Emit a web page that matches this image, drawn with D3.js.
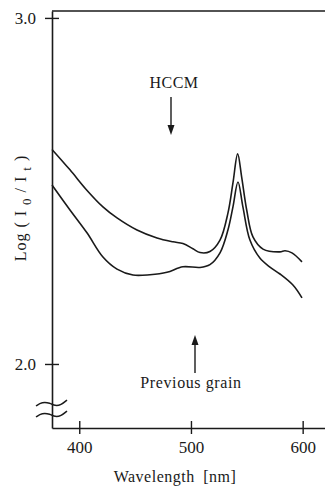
<!DOCTYPE html>
<html>
<head>
<meta charset="utf-8">
<script src="https://cdn.jsdelivr.net/npm/d3@7"></script>
<style>
  html, body { margin: 0; padding: 0; background: #fff; }
  svg { display: block; }
  text { font-family: "Liberation Serif", "Times New Roman", Times, serif; fill: #1a1a1a; }
</style>
</head>
<body>
<div id="chart"></div>
<script>
// wavelength [nm] and Log(I0/It)
const hccmWl = [375.6, 391.7, 406.6, 421.2, 433.8, 451.7, 469.6, 483.9, 492.8, 501.8, 508.1, 517.0, 526.0, 533.1, 537.6, 541.8, 545.4, 549.9, 555.5, 564.5, 579.7, 584.2, 590.4, 599.4];
const hccmVal = [2.620, 2.561, 2.503, 2.454, 2.422, 2.387, 2.364, 2.353, 2.348, 2.333, 2.322, 2.325, 2.358, 2.436, 2.523, 2.607, 2.540, 2.445, 2.367, 2.332, 2.324, 2.327, 2.321, 2.295];

const prevWl = [375.6, 391.7, 406.9, 421.2, 433.8, 448.1, 463.3, 478.5, 492.8, 508.1, 517.0, 526.0, 533.1, 537.6, 542.1, 546.5, 552.8, 561.7, 570.7, 579.7, 591.3, 599.4];
const prevVal = [2.517, 2.445, 2.379, 2.309, 2.274, 2.257, 2.258, 2.265, 2.281, 2.279, 2.287, 2.321, 2.387, 2.454, 2.526, 2.454, 2.358, 2.306, 2.280, 2.260, 2.228, 2.191];

const xTicks = [400, 500, 600];
const yTicks = [2.0, 3.0];

const W = 325, H = 488;
const mLeft = 52, mRight = 325, mTop = 11, mBottom = 428;

const svg = d3.select('#chart').append('svg')
  .attr('width', W)
  .attr('height', H);

const x = d3.scaleLinear().domain([375.6, 620]).range([mLeft, mRight]);
const y = d3.scaleLinear().domain([1.815, 3.02]).range([mBottom, mTop]);

const ink = '#1a1a1a';
const serif = '"Liberation Serif", "Times New Roman", Times, serif';

// frame: top line, left axis, bottom axis
svg.append('line').attr('x1', mLeft).attr('x2', mRight).attr('y1', mTop).attr('y2', mTop)
  .attr('stroke', ink).attr('stroke-width', 1.6);

const xAxis = svg.append('g').attr('transform', 'translate(0,' + mBottom + ')')
  .call(d3.axisBottom(x).tickValues(xTicks).tickSize(0).tickPadding(13).tickFormat(d3.format('d')));
xAxis.attr('font-family', serif);
xAxis.select('.domain').attr('stroke', ink).attr('stroke-width', 1.6);
xAxis.selectAll('.tick').append('line')
  .attr('y1', -7).attr('y2', 6).attr('stroke', ink).attr('stroke-width', 1.4);
xAxis.selectAll('text').attr('font-size', 17).attr('fill', ink);

const yAxis = svg.append('g').attr('transform', 'translate(' + mLeft + ',0)')
  .call(d3.axisLeft(y).tickValues(yTicks).tickSize(0).tickPadding(16).tickFormat(d3.format('.1f')));
yAxis.attr('font-family', serif);
yAxis.select('.domain').attr('stroke', ink).attr('stroke-width', 1.6);
yAxis.selectAll('.tick').append('line')
  .attr('x1', -7).attr('x2', 7).attr('stroke', ink).attr('stroke-width', 1.4);
yAxis.selectAll('text').attr('font-size', 17).attr('fill', ink);

// axis break marks
const wave = d3.line().curve(d3.curveBasis);
[404, 415].forEach(yy => {
  const pts = [[36, yy + 2], [42, yy - 2], [50, yy - 1], [55, yy + 2], [61, yy + 1], [67, yy - 4]];
  svg.append('path').attr('d', wave(pts))
    .attr('fill', 'none').attr('stroke', ink).attr('stroke-width', 1.5);
});

// spectra
const line = d3.line().x(d => x(d[0])).y(d => y(d[1])).curve(d3.curveCatmullRom.alpha(0.5));
[[hccmWl, hccmVal], [prevWl, prevVal]].forEach(([wl, v]) => {
  svg.append('path')
    .datum(wl.map((w, i) => [w, v[i]]))
    .attr('d', line)
    .attr('fill', 'none')
    .attr('stroke', ink)
    .attr('stroke-width', 1.6);
});

// annotations
function arrow(xc, y1, y2) {
  const dir = y2 > y1 ? 1 : -1;
  svg.append('line').attr('x1', xc).attr('x2', xc).attr('y1', y1).attr('y2', y2 - dir * 8)
    .attr('stroke', ink).attr('stroke-width', 1.4);
  svg.append('path')
    .attr('d', 'M' + (xc - 3.5) + ',' + (y2 - dir * 10) + 'L' + xc + ',' + y2 + 'L' + (xc + 3.5) + ',' + (y2 - dir * 10) + 'Z')
    .attr('fill', ink);
}

svg.append('text').attr('x', 174).attr('y', 88).attr('text-anchor', 'middle')
  .attr('font-size', 16).attr('letter-spacing', 0.5).text('HCCM');
arrow(171, 97, 135);

svg.append('text').attr('x', 191).attr('y', 388).attr('text-anchor', 'middle')
  .attr('font-size', 16).attr('letter-spacing', 0.6).text('Previous grain');
arrow(195, 373, 335);

svg.append('text').attr('x', 175).attr('y', 482).attr('text-anchor', 'middle')
  .attr('font-size', 16).attr('letter-spacing', 0.5)
  .text('Wavelength\u2002[nm]');

// y label with subscripts
const yl = svg.append('text')
  .attr('transform', 'translate(26,208) rotate(-90)')
  .attr('text-anchor', 'middle')
  .attr('font-size', 16).attr('letter-spacing', 1);
yl.append('tspan').text('Log ( I ');
yl.append('tspan').attr('font-size', 13).attr('dy', 5).text('0');
yl.append('tspan').attr('dy', -5).text(' / I ');
yl.append('tspan').attr('font-size', 13).attr('dy', 5).text('t');
yl.append('tspan').attr('dy', -5).text(' )');
</script>
</body>
</html>
